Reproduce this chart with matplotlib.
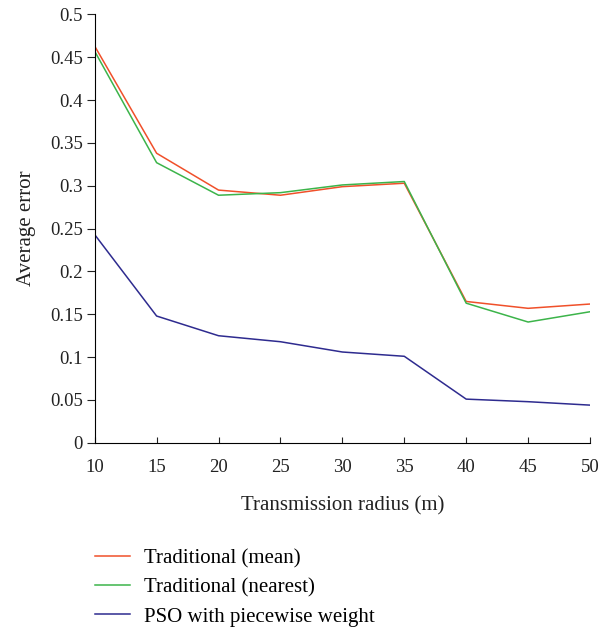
import numpy as np
import matplotlib.pyplot as plt

plt.rcParams['font.family'] = ['Liberation Serif', 'DejaVu Serif']

radius = [10, 15, 20, 25, 30, 35, 40, 45, 50]
trad_mean = [0.463, 0.338, 0.295, 0.289, 0.299, 0.303, 0.165, 0.157, 0.162]
trad_nearest = [0.457, 0.327, 0.289, 0.292, 0.301, 0.305, 0.163, 0.141, 0.153]
pso_piecewise = [0.243, 0.148, 0.125, 0.118, 0.106, 0.101, 0.051, 0.048, 0.044]

fig = plt.figure(figsize=(6.13, 6.29), dpi=100)
ax = fig.add_axes([0.1545, 0.296, 0.808, 0.681])

ax.plot(radius, trad_mean, color='#f0502a', lw=1.1, label='Traditional (mean)')
ax.plot(radius, trad_nearest, color='#3cb44a', lw=1.1, label='Traditional (nearest)')
ax.plot(radius, pso_piecewise, color='#2e2b8f', lw=1.1, label='PSO with piecewise weight')

ax.set_xlim(10, 50)
ax.set_ylim(0, 0.5)
ax.set_xticks(np.arange(10, 51, 5))
ax.set_yticks(np.arange(0, 0.51, 0.05))
ax.set_yticklabels(['0', '0.05', '0.1', '0.15', '0.2', '0.25', '0.3', '0.35', '0.4', '0.45', '0.5'])
for s in ['top', 'right']:
    ax.spines[s].set_visible(False)
ax.tick_params(labelsize=13.5, colors='#222222')
ax.tick_params(axis='y', direction='out', length=6, pad=2.5)
ax.tick_params(axis='x', direction='in', length=4, pad=12)
ax.set_xlabel('Transmission radius (m)', fontsize=15, labelpad=14, color='#222222')
ax.set_ylabel('Average error', fontsize=15, labelpad=10, color='#222222')

ax.legend(loc='upper left', bbox_to_anchor=(0, -0.248), frameon=False, borderpad=0,
          borderaxespad=0, fontsize=15, handlelength=1.7, labelspacing=0.45,
          handletextpad=0.67)

fig.savefig('out.png', dpi=100)
